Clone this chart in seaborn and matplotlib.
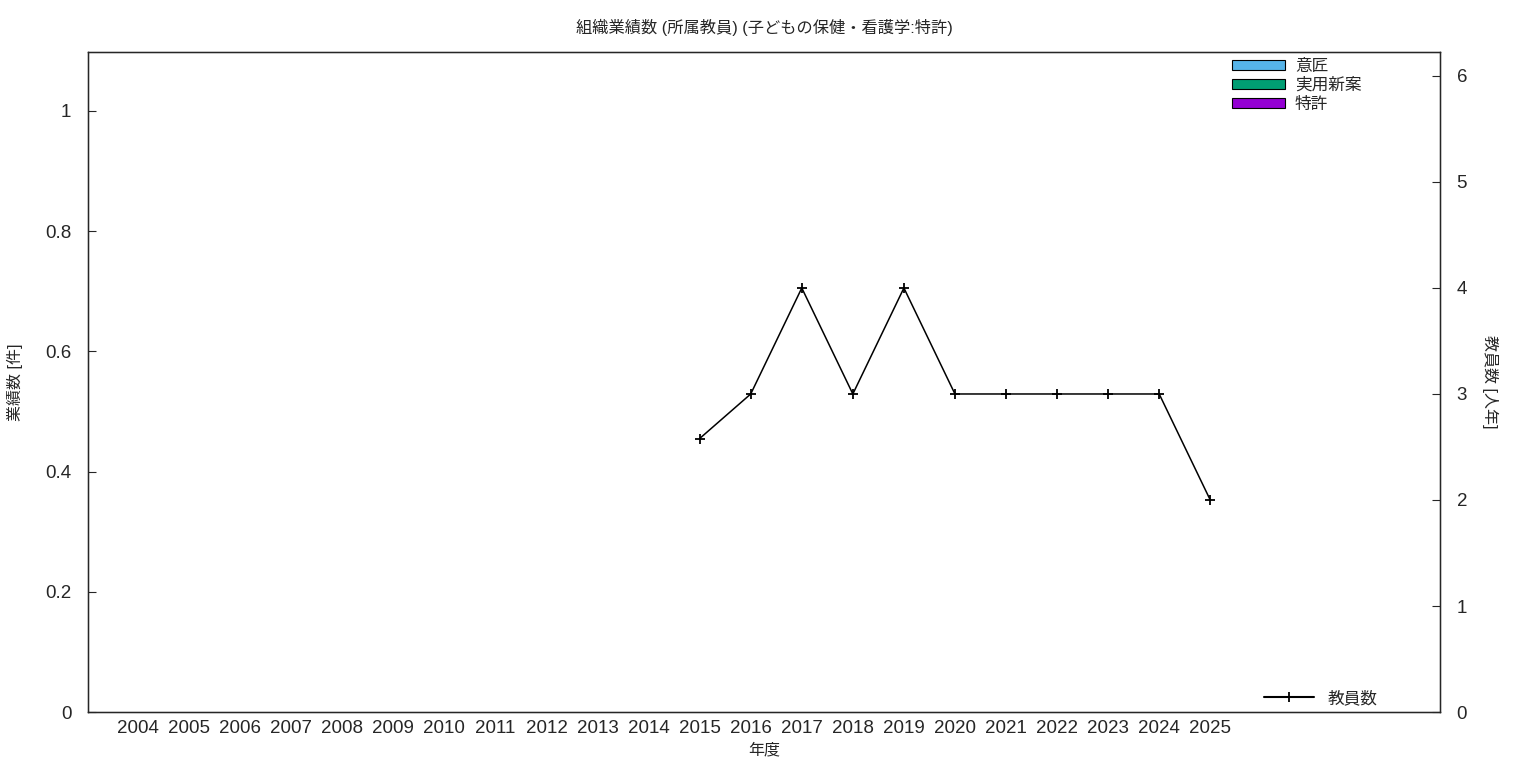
import pandas as pd
import seaborn as sns
import matplotlib.pyplot as plt
from matplotlib.patches import Patch
from matplotlib.lines import Line2D

years = list(range(2004, 2026))
design = [0] * len(years)
utility = [0] * len(years)
patent = [0] * len(years)

staff_years = [2015, 2016, 2017, 2018, 2019, 2020, 2021, 2022, 2023, 2024, 2025]
staff = [2.58, 3, 4, 3, 4, 3, 3, 3, 3, 3, 2]

sns.set_style('white')
plt.rcParams['font.family'] = ['Liberation Sans', 'Noto Sans CJK JP', 'DejaVu Sans']

fig = plt.figure(figsize=(15.36, 7.68), dpi=100)
ax = fig.add_axes([0.0573, 0.0729, 0.8802, 0.8594])

df = pd.DataFrame({'年度': years, '意匠': design, '実用新案': utility, '特許': patent})
colors = {'意匠': '#56b4e9', '実用新案': '#009e73', '特許': '#9400d3'}
for key in ['意匠', '実用新案', '特許']:
    sns.barplot(data=df, x='年度', y=key, native_scale=True, color=colors[key],
                linewidth=0, ax=ax)

ax.set_xlim(2003.02, 2029.5)
ax.set_ylim(0, 1.098)
ax.set_xticks(years)
ax.set_xticklabels([str(y) for y in years], fontsize=13.5)
ax.set_yticks([0, 0.2, 0.4, 0.6, 0.8, 1])
ax.set_yticklabels(['0', '0.2', '0.4', '0.6', '0.8', '1'], fontsize=13.5)
ax.tick_params(axis='x', length=0, pad=6)
ax.tick_params(axis='y', direction='in', length=6, pad=12)
ax.set_xlabel('年度', fontsize=11.5)
ax.set_ylabel('業績数 [件]', fontsize=11.5, labelpad=16)
ax.set_title('組織業績数 (所属教員) (子どもの保健・看護学:特許)', fontsize=11.7, pad=14)
for s in ax.spines.values():
    s.set_color('black')
    s.set_linewidth(1)

ax2 = ax.twinx()
sdf = pd.DataFrame({'年度': staff_years, '教員数': staff})
sns.lineplot(data=sdf, x='年度', y='教員数', color='black', marker='+',
             markersize=7, markeredgewidth=1.3, markeredgecolor='black',
             linewidth=1.1, ax=ax2)
ax2.set_ylim(0, 6.226)
ax2.set_yticks(range(0, 7))
ax2.set_yticklabels([str(i) for i in range(0, 7)], fontsize=13.5)
ax2.tick_params(axis='y', direction='in', length=6, pad=12)
ax2.set_ylabel('教員数 [人年]', fontsize=11.5, rotation=-90, labelpad=22)
ax2.set_xlim(2003.02, 2029.5)

bar_handles = [Patch(facecolor=colors[k], edgecolor='black', linewidth=0.8, label=k)
               for k in ['意匠', '実用新案', '特許']]
ax.legend(handles=bar_handles, loc='upper right', bbox_to_anchor=(0.953, 1.012),
          frameon=False, fontsize=12, handlelength=3.2, handleheight=0.5,
          labelspacing=0.22, handletextpad=0.6)
line_handle = [Line2D([0], [0], color='black', marker='+', markersize=7,
                      markeredgewidth=1.3, linewidth=1.5, label='教員数')]
ax2.legend(handles=line_handle, loc='lower right', bbox_to_anchor=(0.965, -0.014),
           frameon=False, fontsize=12, handlelength=3.0, handletextpad=0.8)

fig.savefig('out.png', dpi=100)
